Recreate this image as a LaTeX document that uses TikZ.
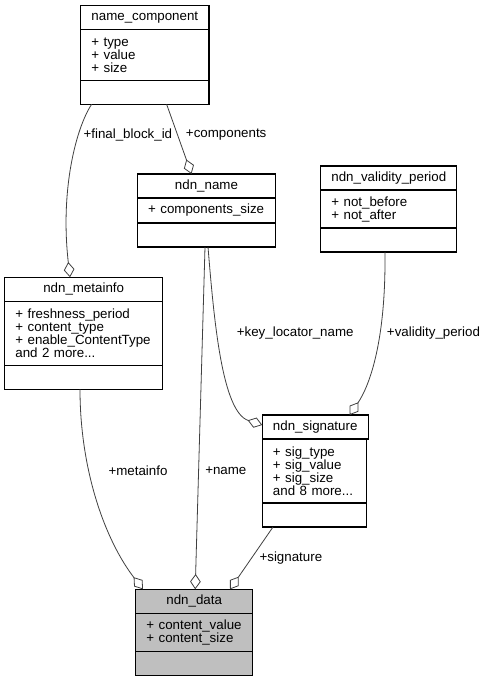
\documentclass[tikz,border=0pt]{standalone}
\usepackage{fontspec}
\setmainfont{Liberation Sans}
\usepackage{tikz}
\usetikzlibrary{arrows.meta,calc}

\begin{document}
\begin{tikzpicture}[x=0.75pt, y=-0.75pt]
			\tikzstyle{Part}	= [draw, line width=0.8pt, anchor=north west, inner xsep=8pt, inner ysep=0pt, outer sep=0pt, font=\fontsize{10}{9.75}\selectfont]
			\tikzstyle{Head}	= [Part, minimum height=18pt]
			\tikzstyle{Attr}	= [Part, align=left]
			\tikzstyle{Tail}	= [Part, minimum height=18pt]
			\tikzstyle{Main}	= [fill=black!25]
			\tikzstyle{Member}	= [draw=black!75, line width=0.6pt, -{Diamond[open, length=11.5pt, width=8pt]}]
			\tikzstyle{Role}	= [anchor=west, inner sep=0pt, font=\fontsize{10}{10}\selectfont]

			\fill[white] (0,0) rectangle (484,681);
			\useasboundingbox (0,0) rectangle (484,681);

			% classes
			\node (nc1) at (80.7, 5.3) [Head, minimum width=96.2pt] {name\_component};
			\node (nc2) at (nc1.south west) [Attr, text width=80.2pt, minimum height=38.25pt] {+ type\\+ value\\+ size};
			\node (nc3) at (nc2.south west) [Tail, minimum width=96.2pt] {};

			\node (nn1) at (137.5, 174) [Head, minimum width=103.5pt] {ndn\_name};
			\node (nn2) at (nn1.south west) [Attr, text width=87.5pt, minimum height=18.75pt] {+ components\_size};
			\node (nn3) at (nn2.south west) [Tail, minimum width=103.5pt] {};

			\node (vp1) at (320.7, 166) [Head, minimum width=101.5pt] {ndn\_validity\_period};
			\node (vp2) at (vp1.south west) [Attr, text width=85.5pt, minimum height=28.5pt] {+ not\_before\\+ not\_after};
			\node (vp3) at (vp2.south west) [Tail, minimum width=101.5pt] {};

			\node (mi1) at (4.7, 277.3) [Head, minimum width=118.5pt] {ndn\_metainfo};
			\node (mi2) at (mi1.south west) [Attr, text width=102.5pt, minimum height=48pt] {+ freshness\_period\\+ content\_type\\+ enable\_ContentType\\and 2 more...};
			\node (mi3) at (mi2.south west) [Tail, minimum width=118.5pt] {};

			\node (sg1) at (262.3, 415) [Head, minimum width=78.3pt] {ndn\_signature};
			\node (sg2) at (sg1.south west) [Attr, text width=62.3pt, minimum height=48pt] {+ sig\_type\\+ sig\_value\\+ sig\_size\\and 8 more...};
			\node (sg3) at (sg2.south west) [Tail, minimum width=78.3pt] {};

			\node (dt1) at (135.7, 589.3) [Head, Main, minimum width=87.75pt] {ndn\_data};
			\node (dt2) at (dt1.south west) [Attr, Main, text width=71.75pt, minimum height=28.5pt] {+ content\_value\\+ content\_size};
			\node (dt3) at (dt2.south west) [Tail, Main, minimum width=87.75pt] {};

			% members
			\draw [Member] ($(nc3.south)+(21.8,0)$) -- ($(nn1.north)+(-15,0)$);
			\draw [Member] ($(nc3.south)+(-53.2,0)$) .. controls (76,128) and (60,190) .. ($(mi1.north)+(-13.7,0)$);
			\draw [Member] ($(nn3.south)+(-1.5,0)$) -- ($(dt1.north)+(1,0)$);
			\draw [Member] ($(nn3.south)+(1.5,0)$) .. controls (214,320) and (222,412) .. ($(sg1.west)+(0,-2)$);
			\draw [Member] ($(vp3.south)+(-3.4,0)$) .. controls (386,340) and (370,385) .. ($(sg1.north)+(34.5,0)$);
			\draw [Member] ($(mi3.south)+(-3.7,0)$) .. controls (80,470) and (105,540) .. ($(dt1.north)+(-51.2,0)$);
			\draw [Member] ($(sg3.south)+(-41.5,0)$) -- ($(dt1.north)+(35.8,0)$);

			\node (r1) at (83.3, 135) [Role] {+final\_block\_id};
			\node (r2) at (185.7, 135) [Role] {+components};
			\node (r3) at (236.6, 333.3) [Role] {+key\_locator\_name};
			\node (r4) at (386.7, 333.3) [Role] {+validity\_period};
			\node (r5) at (108.3, 470.7) [Role] {+metainfo};
			\node (r6) at (205, 470.7) [Role] {+name};
			\node (r7) at (259.3, 558.3) [Role] {+signature};
		\end{tikzpicture}
\end{document}
